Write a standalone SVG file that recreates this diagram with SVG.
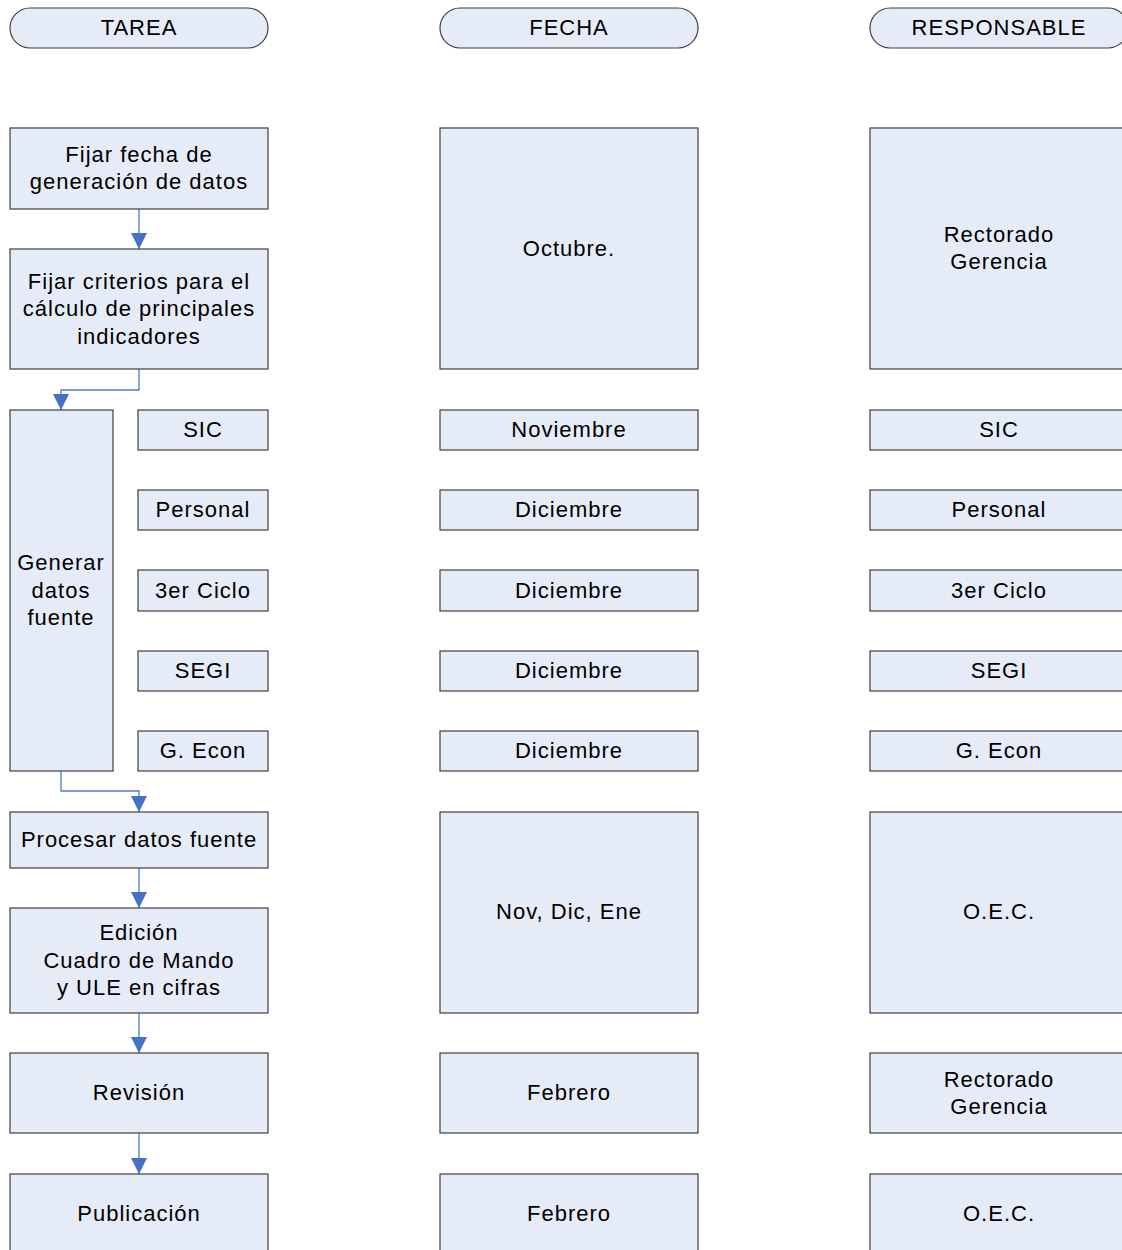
<svg xmlns="http://www.w3.org/2000/svg" width="1122" height="1250" viewBox="0 0 1122 1250">
<defs>
<style>
.b{fill:#E6ECF7;stroke:#3F3F3F;stroke-width:1.2}
.t{font-family:"Liberation Sans",Arial,sans-serif;font-size:22px;letter-spacing:1px;fill:#000;text-anchor:middle}
.c{fill:none;stroke:#4A7EC8;stroke-width:1.3}
</style>
<marker id="ah" markerWidth="16" markerHeight="16" viewBox="0 0 16 16" refX="16" refY="8" orient="auto" markerUnits="userSpaceOnUse">
<path d="M0,0 L16,8 L0,16 Z" fill="#4472C4"/>
</marker>
</defs>
<rect width="1122" height="1250" fill="#fff"/>
<g id="headers">
<g id="h-tarea"><rect class="b" x="10" y="8" width="258" height="40" rx="20"/><text class="t" x="139" y="35">TAREA</text></g>
<g id="h-fecha"><rect class="b" x="440" y="8" width="258" height="40" rx="20"/><text class="t" x="569" y="35">FECHA</text></g>
<g id="h-resp"><rect class="b" x="870" y="8" width="258" height="40" rx="20"/><text class="t" x="999" y="35">RESPONSABLE</text></g>
</g>
<g id="connectors">
<path class="c" d="M139,209 V249" marker-end="url(#ah)"/>
<path class="c" d="M139,369 V390 H61 V410" marker-end="url(#ah)"/>
<path class="c" d="M61,771 V791 H139 V812" marker-end="url(#ah)"/>
<path class="c" d="M139,868 V908" marker-end="url(#ah)"/>
<path class="c" d="M139,1013 V1053" marker-end="url(#ah)"/>
<path class="c" d="M139,1133 V1174" marker-end="url(#ah)"/>
</g>
<g id="n-fijar-fecha"><rect class="b" x="10" y="128" width="258" height="81"/><text class="t" x="139" y="162">Fijar fecha de</text><text class="t" x="139" y="189">generación de datos</text></g>
<g id="n-fijar-criterios"><rect class="b" x="10" y="249" width="258" height="120"/><text class="t" x="139" y="289">Fijar criterios para el</text><text class="t" x="139" y="316">cálculo de principales</text><text class="t" x="139" y="344">indicadores</text></g>
<g id="n-generar"><rect class="b" x="10" y="410" width="103" height="361"/><text class="t" x="61" y="570">Generar</text><text class="t" x="61" y="598">datos</text><text class="t" x="61" y="625">fuente</text></g>
<g id="n-sic"><rect class="b" x="138" y="410" width="130" height="40"/><text class="t" x="203" y="437">SIC</text></g>
<g id="n-personal"><rect class="b" x="138" y="490" width="130" height="40"/><text class="t" x="203" y="517">Personal</text></g>
<g id="n-3er"><rect class="b" x="138" y="570" width="130" height="41"/><text class="t" x="203" y="598">3er Ciclo</text></g>
<g id="n-segi"><rect class="b" x="138" y="651" width="130" height="40"/><text class="t" x="203" y="678">SEGI</text></g>
<g id="n-gecon"><rect class="b" x="138" y="731" width="130" height="40"/><text class="t" x="203" y="758">G. Econ</text></g>
<g id="n-procesar"><rect class="b" x="10" y="812" width="258" height="56"/><text class="t" x="139" y="847">Procesar datos fuente</text></g>
<g id="n-edicion"><rect class="b" x="10" y="908" width="258" height="105"/><text class="t" x="139" y="940">Edición</text><text class="t" x="139" y="968">Cuadro de Mando</text><text class="t" x="139" y="995">y ULE en cifras</text></g>
<g id="n-revision"><rect class="b" x="10" y="1053" width="258" height="80"/><text class="t" x="139" y="1100">Revisión</text></g>
<g id="n-publicacion"><rect class="b" x="10" y="1174" width="258" height="82"/><text class="t" x="139" y="1221">Publicación</text></g>
<g id="f-octubre"><rect class="b" x="440" y="128" width="258" height="241"/><text class="t" x="569" y="256">Octubre.</text></g>
<g id="f-nov"><rect class="b" x="440" y="410" width="258" height="40"/><text class="t" x="569" y="437">Noviembre</text></g>
<g id="f-dic1"><rect class="b" x="440" y="490" width="258" height="40"/><text class="t" x="569" y="517">Diciembre</text></g>
<g id="f-dic2"><rect class="b" x="440" y="570" width="258" height="41"/><text class="t" x="569" y="598">Diciembre</text></g>
<g id="f-dic3"><rect class="b" x="440" y="651" width="258" height="40"/><text class="t" x="569" y="678">Diciembre</text></g>
<g id="f-dic4"><rect class="b" x="440" y="731" width="258" height="40"/><text class="t" x="569" y="758">Diciembre</text></g>
<g id="f-ndE"><rect class="b" x="440" y="812" width="258" height="201"/><text class="t" x="569" y="919">Nov, Dic, Ene</text></g>
<g id="f-feb1"><rect class="b" x="440" y="1053" width="258" height="80"/><text class="t" x="569" y="1100">Febrero</text></g>
<g id="f-feb2"><rect class="b" x="440" y="1174" width="258" height="82"/><text class="t" x="569" y="1221">Febrero</text></g>
<g id="r-rect1"><rect class="b" x="870" y="128" width="258" height="241"/><text class="t" x="999" y="242">Rectorado</text><text class="t" x="999" y="269">Gerencia</text></g>
<g id="r-sic"><rect class="b" x="870" y="410" width="258" height="40"/><text class="t" x="999" y="437">SIC</text></g>
<g id="r-personal"><rect class="b" x="870" y="490" width="258" height="40"/><text class="t" x="999" y="517">Personal</text></g>
<g id="r-3er"><rect class="b" x="870" y="570" width="258" height="41"/><text class="t" x="999" y="598">3er Ciclo</text></g>
<g id="r-segi"><rect class="b" x="870" y="651" width="258" height="40"/><text class="t" x="999" y="678">SEGI</text></g>
<g id="r-gecon"><rect class="b" x="870" y="731" width="258" height="40"/><text class="t" x="999" y="758">G. Econ</text></g>
<g id="r-oec1"><rect class="b" x="870" y="812" width="258" height="201"/><text class="t" x="999" y="919">O.E.C.</text></g>
<g id="r-rect2"><rect class="b" x="870" y="1053" width="258" height="80"/><text class="t" x="999" y="1087">Rectorado</text><text class="t" x="999" y="1114">Gerencia</text></g>
<g id="r-oec2"><rect class="b" x="870" y="1174" width="258" height="82"/><text class="t" x="999" y="1221">O.E.C.</text></g>
</svg>
